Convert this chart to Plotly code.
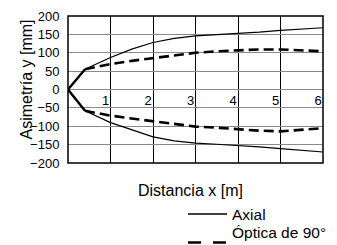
import plotly.graph_objects as go

# Data
x_pts = [0, 0.4, 1, 1.5, 2, 2.5, 3, 3.5, 4, 4.5, 5, 5.5, 6]
axial_up = [0, 55, 87, 110, 128, 139, 146, 149, 152, 156, 161, 165, 168]
axial_dn = [0, -58, -90, -109, -129, -140, -146, -149, -152, -156, -161, -166, -170]
optica_up = [0, 55, 69, 78, 86, 93, 100, 104, 107, 109, 109, 107, 104]
optica_dn = [0, -58, -71, -79, -86, -94, -101, -104, -109, -112, -114, -110, -105]

x_ticks = [1, 2, 3, 4, 5, 6]
y_ticks = [-200, -150, -100, -50, 0, 50, 100, 150, 200]

series_names = ["Axial", "Óptica de 90°"]
x_title = "Distancia x [m]"
y_title = "Asimetría y [mm]"

FONT = "Liberation Sans, Arial, sans-serif"

fig = go.Figure()

solid = dict(color="black", width=1.2)
dashed = dict(color="black", width=2.6, dash="10px,5px")
knee = dict(color="black", width=2.4)

fig.add_trace(go.Scatter(x=x_pts, y=axial_up, mode="lines", line=solid, showlegend=False))
fig.add_trace(go.Scatter(x=x_pts, y=axial_dn, mode="lines", line=solid, showlegend=False))
fig.add_trace(go.Scatter(x=x_pts[1:], y=optica_up[1:], mode="lines", line=dashed, showlegend=False))
fig.add_trace(go.Scatter(x=x_pts[1:], y=optica_dn[1:], mode="lines", line=dashed, showlegend=False))
fig.add_trace(go.Scatter(x=x_pts[:2], y=optica_up[:2], mode="lines", line=knee, showlegend=False))
fig.add_trace(go.Scatter(x=x_pts[:2], y=optica_dn[:2], mode="lines", line=knee, showlegend=False))

# page body has an 8px margin; compensate so page pixels match the reference
OFF = 8
W, H = 337 - OFF, 245 - OFF
L, T = 68 - OFF, 16 - OFF
R, B = W - (323 - OFF), H - (163 - OFF)
pw, ph = W - L - R, H - T - B

def px(xp):
    return (xp - OFF - L) / pw

def py(yp):
    return (H - B - (yp - OFF)) / ph

fig.update_layout(
    width=W, height=H,
    margin=dict(l=L, r=R, t=T, b=B, autoexpand=False),
    paper_bgcolor="white", plot_bgcolor="white",
    font=dict(family=FONT, color="black"),
    xaxis=dict(
        range=[0, 6], tickvals=x_ticks, ticktext=[str(v) for v in x_ticks],
        showgrid=True, gridcolor="black", gridwidth=1,
        zeroline=False, showline=False,
        anchor="free", position=0.5,
        ticks="", tickfont=dict(size=13, family=FONT),
        ticklabelshift=-5, ticklabelstandoff=1,
    ),
    yaxis=dict(
        range=[-200, 200], tickvals=y_ticks,
        showgrid=True, gridcolor="#8a8a8a", gridwidth=1,
        zeroline=False, showline=False,
        ticks="outside", ticklen=5, tickcolor="rgba(0,0,0,0)",
        tickfont=dict(size=13, family=FONT),
    ),
    shapes=[
        dict(type="rect", xref="paper", yref="paper", x0=0, x1=1, y0=0, y1=1,
             line=dict(color="black", width=1.5)),
        dict(type="line", xref="paper", yref="paper", x0=px(188), x1=px(227),
             y0=py(214), y1=py(214), line=dict(color="black", width=1.5)),
        dict(type="line", xref="paper", yref="paper", x0=px(188), x1=px(227),
             y0=py(242.5), y1=py(242.5), line=dict(color="black", width=2.6, dash="13px,12px")),
    ],
    annotations=[
        dict(text=y_title, xref="paper", yref="paper", x=px(25.5), y=py(80),
             xanchor="center", yanchor="middle", textangle=-90, showarrow=False,
             font=dict(size=16, family=FONT)),
        dict(text=x_title, xref="paper", yref="paper", x=px(190), y=py(190),
             xanchor="center", yanchor="middle", showarrow=False,
             font=dict(size=16, family=FONT)),
        dict(text=series_names[0], xref="paper", yref="paper", x=px(230), y=py(214.5),
             xanchor="left", yanchor="middle", showarrow=False,
             font=dict(size=15.5, family=FONT)),
        dict(text=series_names[1], xref="paper", yref="paper", x=px(230), y=py(232),
             xanchor="left", yanchor="middle", showarrow=False,
             font=dict(size=15.5, family=FONT)),
    ],
)

fig.write_html("out.html")
